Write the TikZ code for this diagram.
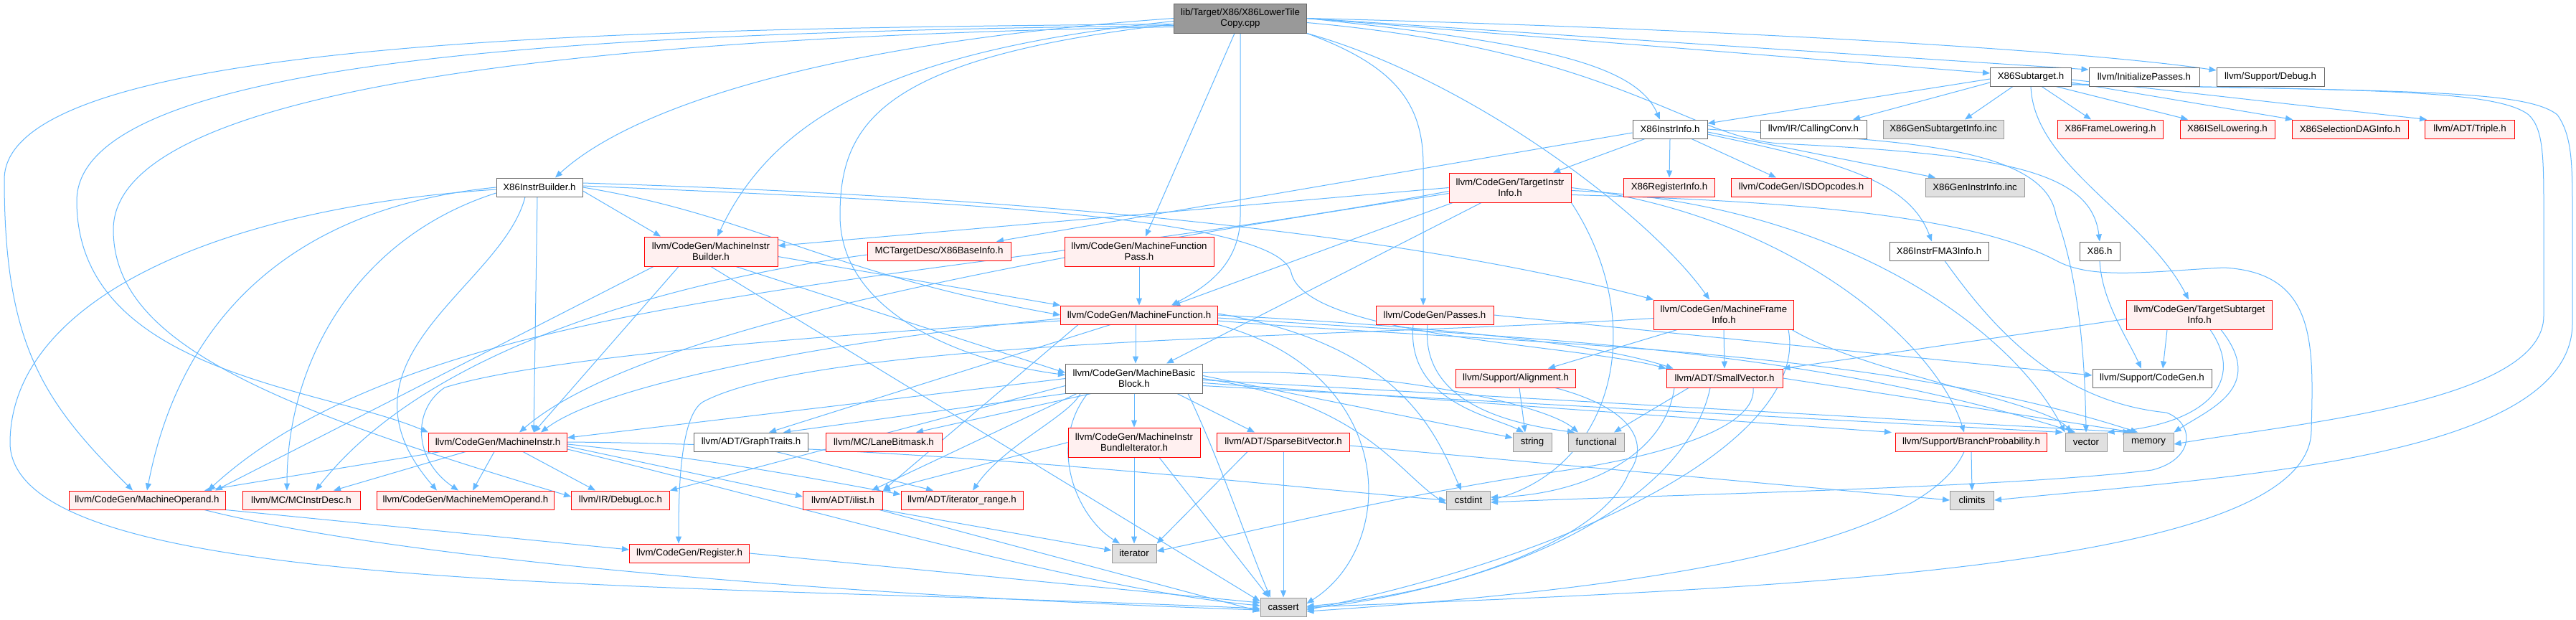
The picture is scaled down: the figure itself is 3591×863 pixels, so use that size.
\documentclass[tikz,border=0pt]{standalone}
\usepackage{fontspec}
\setmainfont{Liberation Sans}
\usetikzlibrary{arrows.meta,backgrounds}
\definecolor{edgec}{HTML}{63B8FF}
\definecolor{pinkf}{HTML}{FFF0F0}
\definecolor{redb}{HTML}{FF0000}
\definecolor{grayf}{HTML}{E0E0E0}
\definecolor{grayb}{HTML}{999999}
\definecolor{darkb}{HTML}{666666}
\definecolor{rootf}{HTML}{999999}
\begin{document}
\begin{tikzpicture}[x=1pt,y=-1pt,
  nd/.style={draw, line width=1pt, minimum height=26pt, inner xsep=2pt, inner ysep=1pt, align=center, font=\fontsize{13.3}{15}\selectfont, text=black},
  rn/.style={nd, draw=redb, fill=pinkf},
  wn/.style={nd, draw=darkb, fill=white},
  gn/.style={nd, draw=grayb, fill=grayf},
  tn/.style={nd, draw=darkb, fill=rootf},
  two/.style={minimum height=41pt},
  ed/.style={draw=edgec, line width=1pt, -{Triangle[length=10pt,width=8pt]}}
]
\useasboundingbox (0,0) rectangle (3591,863);
% ---------------- nodes
\node[tn,two,minimum width=185pt] (root) at (1729,25.5) {lib/Target/X86/X86LowerTile\\Copy.cpp};
\node[wn,minimum width=113pt] (x86st) at (2831,107) {X86Subtarget.h};
\node[wn,minimum width=154pt] (initp) at (2989,107) {llvm/InitializePasses.h};
\node[wn,minimum width=150pt] (debug) at (3165,107) {llvm/Support/Debug.h};
\node[wn,minimum width=104pt] (x86ii) at (2328,180) {X86InstrInfo.h};
\node[wn,minimum width=148pt] (callconv) at (2528,180) {llvm/IR/CallingConv.h};
\node[gn,minimum width=168pt] (gensti) at (2709,180) {X86GenSubtargetInfo.inc};
\node[rn,minimum width=147pt] (framel) at (2942,180) {X86FrameLowering.h};
\node[rn,minimum width=132pt] (isell) at (3105,180) {X86ISelLowering.h};
\node[rn,minimum width=162pt] (seldag) at (3276,180) {X86SelectionDAGInfo.h};
\node[rn,minimum width=125pt] (triple) at (3443,180) {llvm/ADT/Triple.h};
\node[wn,minimum width=120pt] (x86ib) at (752,261) {X86InstrBuilder.h};
\node[rn,two,minimum width=170pt] (tii) at (2105,261.5) {llvm/CodeGen/TargetInstr\\Info.h};
\node[rn,minimum width=127pt] (reginfo) at (2327,261) {X86RegisterInfo.h};
\node[rn,minimum width=195pt] (isdop) at (2511,261) {llvm/CodeGen/ISDOpcodes.h};
\node[gn,minimum width=138pt] (geninst) at (2753,261) {X86GenInstrInfo.inc};
\node[rn,two,minimum width=186pt] (mib) at (991,350.5) {llvm/CodeGen/MachineInstr\\Builder.h};
\node[rn,minimum width=200pt] (baseinfo) at (1309,350) {MCTargetDesc/X86BaseInfo.h};
\node[rn,two,minimum width=208pt] (mfp) at (1588,350.5) {llvm/CodeGen/MachineFunction\\Pass.h};
\node[wn,minimum width=138pt] (fma3) at (2703,350) {X86InstrFMA3Info.h};
\node[wn,minimum width=56pt] (x86h) at (2927,350) {X86.h};
\node[rn,minimum width=219pt] (mf) at (1588,439) {llvm/CodeGen/MachineFunction.h};
\node[rn,minimum width=164pt] (passes) at (2000,439) {llvm/CodeGen/Passes.h};
\node[rn,two,minimum width=195pt] (mfi) at (2403,438.5) {llvm/CodeGen/MachineFrame\\Info.h};
\node[rn,two,minimum width=203pt] (tsi) at (3066,438.5) {llvm/CodeGen/TargetSubtarget\\Info.h};
\node[wn,two,minimum width=191pt] (mbb) at (1581,527.5) {llvm/CodeGen/MachineBasic\\Block.h};
\node[rn,minimum width=167pt] (align) at (2113,527) {llvm/Support/Alignment.h};
\node[rn,minimum width=162pt] (smallvec) at (2404,527) {llvm/ADT/SmallVector.h};
\node[wn,minimum width=166pt] (cgen) at (3000,527) {llvm/Support/CodeGen.h};
\node[rn,minimum width=193pt] (mi) at (694,616) {llvm/CodeGen/MachineInstr.h};
\node[wn,minimum width=159pt] (graph) at (1047,616) {llvm/ADT/GraphTraits.h};
\node[rn,minimum width=162pt] (lane) at (1232,616) {llvm/MC/LaneBitmask.h};
\node[rn,two,minimum width=184pt] (bundle) at (1581,616.5) {llvm/CodeGen/MachineInstr\\BundleIterator.h};
\node[rn,minimum width=185pt] (sparse) at (1789,616) {llvm/ADT/SparseBitVector.h};
\node[gn,minimum width=54pt] (string) at (2136,616) {string};
\node[gn,minimum width=78pt] (functional) at (2225,616) {functional};
\node[rn,minimum width=211pt] (branch) at (2748,616) {llvm/Support/BranchProbability.h};
\node[gn,minimum width=58pt] (vector) at (2908,616) {vector};
\node[gn,minimum width=70pt] (memory) at (2995,616) {memory};
\node[rn,minimum width=218pt] (mo) at (205,697) {llvm/CodeGen/MachineOperand.h};
\node[rn,minimum width=164pt] (mcid) at (420,697) {llvm/MC/MCInstrDesc.h};
\node[rn,minimum width=247pt] (mmo) at (649,697) {llvm/CodeGen/MachineMemOperand.h};
\node[rn,minimum width=137pt] (dloc) at (865,697) {llvm/IR/DebugLoc.h};
\node[rn,minimum width=111pt] (ilist) at (1175,697) {llvm/ADT/ilist.h};
\node[rn,minimum width=170pt] (itrange) at (1341,697) {llvm/ADT/iterator\_range.h};
\node[gn,minimum width=61pt] (cstdint) at (2047,697) {cstdint};
\node[gn,minimum width=61pt] (climits) at (2749,697) {climits};
\node[rn,minimum width=167pt] (reg) at (961,771) {llvm/CodeGen/Register.h};
\node[gn,minimum width=62pt] (iterator) at (1581,771) {iterator};
\node[gn,minimum width=64pt] (cassert) at (1789,846) {cassert};
% ---------------- edges
\begin{pgfonlayer}{background}
\fill[white] (0,0) rectangle (3591,863);
% root
\draw[ed] (root.west) .. controls (1150,60) and (880,150) .. ([xshift=22pt]x86ib.north);
\draw[ed] ([yshift=-4pt]root.west) .. controls (1250,70) and (1080,160) .. ([xshift=9pt]mib.north);
\draw[ed] ([yshift=-8pt]root.west) .. controls (1230,80) and (1171,170) .. (1171,300) .. controls (1171,440) and (1350,505) .. ([yshift=5pt]mbb.west);
\draw[ed] ([xshift=-8pt]root.south) -- ([xshift=9pt]mfp.north);
\draw[ed] (root.south) -- (1729,300) .. controls (1729,370) and (1680,400) .. ([xshift=45pt]mf.north);
\draw[ed] (root.south east) .. controls (1940,90) and (1984,140) .. (1984,230) -- ([xshift=-16pt]passes.north);
\draw[ed] (root.south east) .. controls (2050,110) and (2300,300) .. ([xshift=-20pt]mfi.north);
\draw[ed] (root.east) .. controls (2150,60) and (2280,90) .. ([xshift=-14pt]x86ii.north);
\draw[ed] (root.east) -- ([yshift=5pt]x86st.west);
\draw[ed] (root.east) -- ([yshift=10pt]initp.west);
\draw[ed] (root.east) .. controls (2400,40) and (2900,70) .. ([yshift=9pt]debug.west);
\draw[ed] ([yshift=-6pt]root.east) .. controls (2250,70) and (2350,190) .. (2480,200) .. controls (2800,215) and (2915,240) .. (x86h.north);
\draw[ed] ([yshift=-8pt]root.west) .. controls (900,40) and (6,50) .. (6,250) .. controls (6,480) and (60,560) .. ([xshift=-20pt]mo.north);
\draw[ed] ([yshift=-10pt]root.west) .. controls (900,45) and (107,70) .. (107,280) .. controls (107,520) and (450,540) .. (mi.north west);
\draw[ed] ([yshift=-12pt]root.west) .. controls (900,50) and (158,110) .. (158,320) .. controls (158,470) and (350,560) .. ([yshift=5pt]dloc.west);
% X86InstrBuilder
\draw[ed] ([yshift=-5pt]x86ib.east) -- ([xshift=-70pt]mib.north);
\draw[ed] (x86ib.east) .. controls (1050,300) and (1150,380) .. (mf.west);
\draw[ed] ([yshift=6pt]x86ib.east) .. controls (1300,270) and (1900,310) .. (mfi.north west);
\draw[ed] ([yshift=2pt]x86ib.east) .. controls (1300,280) and (1780,300) .. (1800,380) .. controls (1820,470) and (2200,480) .. (smallvec.north west);
\draw[ed] ([xshift=-3pt]x86ib.south) -- ([xshift=50pt]mi.north);
\draw[ed] (x86ib.west) .. controls (400,290) and (250,450) .. (mo.north);
\draw[ed] ([yshift=-8pt]x86ib.west) .. controls (500,330) and (400,500) .. ([xshift=-20pt]mcid.north);
\draw[ed] ([xshift=-20pt]x86ib.south) .. controls (700,400) and (450,500) .. ([xshift=-40pt]mmo.north);
\draw[ed] ([yshift=-3pt]x86ib.west) .. controls (300,290) and (12,420) .. (14,620) .. controls (25,830) and (900,810) .. ([yshift=-2pt]cassert.west);
% X86Subtarget
\draw[ed] ([yshift=-3pt]x86st.west) -- ([yshift=8pt]x86ii.east);
\draw[ed] ([yshift=-8pt]x86st.west) -- ([xshift=55pt]callconv.north);
\draw[ed] ([xshift=-25pt]x86st.south) -- ([xshift=30pt]gensti.north);
\draw[ed] ([xshift=15pt]x86st.south) -- ([xshift=-27pt]framel.north);
\draw[ed] ([xshift=35pt]x86st.south) -- ([xshift=-55pt]isell.north);
\draw[ed] ([yshift=-8pt]x86st.east) -- ([xshift=-80pt]seldag.north);
\draw[ed] ([yshift=-4pt]x86st.east) -- ([xshift=-60pt]triple.north);
\draw[ed] (x86st.south) .. controls (2835,230) and (2990,300) .. ([xshift=-15pt]tsi.north);
\draw[ed] ([yshift=-11pt]x86st.east) .. controls (3300,125) and (3480,125) .. (3525,160) .. controls (3546,180) and (3546,220) .. (3546,300) -- (3546,440) .. controls (3546,560) and (3200,590) .. ([yshift=-3pt]memory.east);
\draw[ed] ([yshift=-10pt]x86st.east) .. controls (3350,128) and (3520,124) .. (3565,160) .. controls (3586,190) and (3586,230) .. (3586,300) -- (3586,450) .. controls (3586,640) and (3100,665) .. (climits.east);
% X86InstrInfo
\draw[ed] ([yshift=-5pt]x86ii.west) -- ([xshift=80pt]baseinfo.north);
\draw[ed] ([xshift=-35pt]x86ii.south) -- ([xshift=60pt]tii.north);
\draw[ed] (x86ii.south) -- (reginfo.north);
\draw[ed] ([xshift=30pt]x86ii.south) -- ([xshift=-35pt]isdop.north);
\draw[ed] ([yshift=-4pt]x86ii.east) -- ([xshift=-55pt]geninst.north);
\draw[ed] ([yshift=-7pt]x86ii.east) .. controls (2560,225) and (2660,250) .. ([xshift=-10pt]fma3.north);
\draw[ed] (x86ii.east) .. controls (2600,195) and (2850,195) .. (2866,300) .. controls (2895,380) and (2906,480) .. (vector.north);
% X86.h, FMA3
\draw[ed] (x86h.south) .. controls (2930,420) and (2965,470) .. ([xshift=-15pt]cgen.north);
\draw[ed] ([xshift=8pt]fma3.south) .. controls (2780,460) and (2870,560) .. (3020,575) .. controls (3060,590) and (3060,640) .. (3000,655) .. controls (2800,680) and (2300,690) .. ([yshift=-3pt]cstdint.east);
% TargetInstrInfo
\draw[ed] (tii.west) -- ([yshift=8pt]mib.east);
\draw[ed] ([yshift=-5pt]tii.west) .. controls (1300,400) and (600,400) .. ([xshift=85pt]mo.north);
\draw[ed] ([yshift=-8pt]tii.west) .. controls (1500,350) and (900,450) .. ([xshift=30pt]mi.north);
\draw[ed] ([xshift=-80pt]tii.south) -- ([xshift=47pt]mf.north);
\draw[ed] ([xshift=-40pt]tii.south) -- ([xshift=45pt]mbb.north);
\draw[ed] (tii.east) .. controls (2500,300) and (2700,480) .. ([xshift=-10pt]branch.north);
\draw[ed] ([yshift=-4pt]tii.east) .. controls (2550,280) and (2800,450) .. (vector.north west);
\draw[ed] (tii.south east) .. controls (2300,450) and (2250,650) .. (cstdint.east);
\draw[ed] ([yshift=-10pt]tii.east) .. controls (2500,280) and (2750,300) .. (2870,365) .. controls (2920,390) and (3000,378) .. (3100,373) .. controls (3230,380) and (3225,480) .. (3222,600) .. controls (3220,790) and (2500,820) .. (cassert.east);
% MachineInstrBuilder
\draw[ed] ([yshift=-7pt]mib.east) -- (mf.north west);
\draw[ed] ([xshift=35pt]mib.south) -- ([yshift=8pt]mbb.west);
\draw[ed] ([xshift=-45pt]mib.south) -- ([xshift=50pt]mi.north);
\draw[ed] ([xshift=-80pt]mib.south) -- ([xshift=95pt]mo.north);
\draw[ed] (mib.south) -- ([yshift=8pt]cassert.west);
% X86BaseInfo, MachineFunctionPass
\draw[ed] ([yshift=-5pt]baseinfo.west) .. controls (950,390) and (600,480) .. ([xshift=20pt]mcid.north);
\draw[ed] (mfp.south) -- (mf.north);
% MachineFunction
\draw[ed] ([xshift=-5pt]mf.south) -- ([xshift=2pt]mbb.north);
\draw[ed] ([yshift=-5pt]mf.west) .. controls (1200,470) and (850,530) .. ([xshift=60pt]mi.north);
\draw[ed] ([yshift=-8pt]mf.west) .. controls (1100,470) and (750,500) .. (620,540) .. controls (575,570) and (575,640) .. ([xshift=-10pt]mmo.north);
\draw[ed] ([xshift=-40pt]mf.south) -- ([xshift=25pt]graph.north);
\draw[ed] ([xshift=-85pt]mf.south) -- (ilist.north east);
\draw[ed] (mf.east) .. controls (1900,450) and (2200,470) .. ([xshift=10pt]smallvec.north west);
\draw[ed] ([yshift=-4pt]mf.east) .. controls (2100,470) and (2500,480) .. ([xshift=-15pt]vector.north);
\draw[ed] ([yshift=-8pt]mf.east) .. controls (2100,480) and (2600,480) .. ([xshift=-15pt]memory.north);
\draw[ed] (mf.south east) .. controls (1950,520) and (1950,760) .. ([yshift=5pt]cassert.east);
\draw[ed] ([yshift=2pt]mf.east) .. controls (1950,480) and (2000,600) .. ([xshift=-10pt]cstdint.north);
% MachineBasicBlock
\draw[ed] (mbb.west) -- ([yshift=6pt]mi.east);
\draw[ed] (mbb.south west) -- ([xshift=45pt]graph.north);
\draw[ed] ([xshift=-60pt]mbb.south) -- ([xshift=45pt]lane.north);
\draw[ed] (mbb.south) -- (bundle.north);
\draw[ed] ([xshift=60pt]mbb.south) -- ([xshift=-40pt]sparse.north);
\draw[ed] ([xshift=-80pt]mbb.south) -- ([xshift=40pt]ilist.north);
\draw[ed] ([xshift=-75pt]mbb.south) .. controls (1490,580) and (1400,620) .. ([xshift=15pt]itrange.north);
\draw[ed] ([xshift=-65pt]mbb.south) .. controls (1460,620) and (1500,720) .. ([xshift=-20pt]iterator.north);
\draw[ed] ([yshift=4pt]mbb.east) -- ([yshift=6pt]string.west);
\draw[ed] ([yshift=8pt]mbb.east) .. controls (1900,510) and (2150,560) .. ([xshift=-25pt]functional.north);
\draw[ed] ([xshift=75pt]mbb.south) .. controls (1700,640) and (1740,760) .. ([xshift=-18pt]cassert.north);
\draw[ed] (mbb.east) .. controls (1900,560) and (1950,660) .. ([yshift=-5pt]cstdint.west);
\draw[ed] ([yshift=-6pt]mbb.east) -- ([xshift=-5pt]branch.north west);
\draw[ed] ([yshift=-10pt]mbb.east) -- ([xshift=-3pt]vector.north west);
\draw[ed] ([yshift=-2pt]mbb.east) -- ([xshift=10pt]memory.north west);
\draw[ed] ([yshift=-10pt]mbb.west) -- (dloc.north east);
% MachineInstr
\draw[ed] ([xshift=-80pt]mi.south) -- ([xshift=80pt]mo.north);
\draw[ed] ([xshift=-45pt]mi.south) -- ([xshift=45pt]mcid.north);
\draw[ed] ([xshift=-5pt]mi.south) -- ([xshift=10pt]mmo.north);
\draw[ed] ([xshift=35pt]mi.south) -- ([xshift=-35pt]dloc.north);
\draw[ed] ([yshift=-6pt]mi.east) -- ([yshift=5pt]ilist.west);
\draw[ed] ([yshift=-3pt]mi.east) .. controls (1000,640) and (1150,670) .. ([yshift=8pt]itrange.west);
\draw[ed] ([yshift=-10pt]mi.east) .. controls (1100,700) and (1500,820) .. ([yshift=2pt]cassert.west);
\draw[ed] (mi.east) .. controls (1300,620) and (1800,680) .. (cstdint.west);
% Passes
\draw[ed] (passes.east) -- ([yshift=4pt]cgen.west);
\draw[ed] ([xshift=-10pt]passes.south) .. controls (1980,560) and (2100,590) .. ([xshift=-30pt]functional.north);
\draw[ed] ([xshift=-30pt]passes.south) .. controls (1960,560) and (2080,580) .. ([xshift=-12pt]string.north);
% MachineFrameInfo
\draw[ed] ([xshift=-65pt]mfi.south) -- ([xshift=45pt]align.north);
\draw[ed] (mfi.south) -- (smallvec.north);
\draw[ed] ([yshift=-5pt]mfi.west) .. controls (1900,470) and (1150,470) .. (980,560) .. controls (946,580) and (946,700) .. ([xshift=-15pt]reg.north);
\draw[ed] ([xshift=90pt]mfi.south) .. controls (2520,600) and (2250,760) .. ([yshift=-4pt]cassert.east);
\draw[ed] ([xshift=95pt]mfi.south) .. controls (2600,520) and (2850,560) .. ([xshift=-20pt]vector.north);
% TargetSubtargetInfo
\draw[ed] ([xshift=-45pt]tsi.south) -- ([xshift=15pt]cgen.north);
\draw[ed] ([yshift=-6pt]tsi.west) -- (smallvec.north east);
\draw[ed] ([xshift=15pt]tsi.south) .. controls (3130,530) and (3080,590) .. (vector.north east);
\draw[ed] ([xshift=30pt]tsi.south) .. controls (3160,540) and (3080,570) .. (memory.north east);
% Alignment, SmallVector
\draw[ed] ([xshift=5pt]align.south) -- ([xshift=-10pt]string.north);
\draw[ed] ([xshift=55pt]align.south) .. controls (2280,570) and (2300,620) .. (2270,660) .. controls (2230,760) and (2000,830) .. ([yshift=-2pt]cassert.east);
\draw[ed] ([xshift=-50pt]smallvec.south) -- ([xshift=25pt]functional.north);
\draw[ed] ([xshift=-70pt]smallvec.south) .. controls (2320,640) and (2200,690) .. ([yshift=4pt]cstdint.east);
\draw[ed] ([xshift=-20pt]smallvec.south) .. controls (2350,700) and (2100,820) .. ([yshift=1pt]cassert.east);
\draw[ed] ([xshift=40pt]smallvec.south) .. controls (2450,600) and (2300,640) .. (2150,660) .. controls (1950,690) and (1750,740) .. ([yshift=3pt]iterator.east);
\draw[ed] (smallvec.east) -- ([xshift=-20pt]memory.north);
% BranchProbability
\draw[ed] (branch.south) -- (climits.north);
\draw[ed] ([xshift=-10pt]branch.south) .. controls (2680,760) and (2300,820) .. ([yshift=-6pt]cassert.east);
% lower level
\draw[ed] (mo.south east) -- ([yshift=5pt]reg.west);
\draw[ed] ([xshift=80pt]mo.south) .. controls (600,790) and (1300,835) .. ([yshift=-4pt]cassert.west);
\draw[ed] (reg.east) -- ([yshift=6pt]cassert.west);
\draw[ed] ([xshift=35pt]graph.south) -- ([xshift=-40pt]itrange.north);
\draw[ed] (bundle.west) -- (ilist.north east);
\draw[ed] (bundle.south) -- (iterator.north);
\draw[ed] ([xshift=35pt]bundle.south) -- ([xshift=-20pt]cassert.north);
\draw[ed] ([xshift=-50pt]sparse.south) -- (iterator.north east);
\draw[ed] (sparse.south) -- (cassert.north);
\draw[ed] ([yshift=-5pt]sparse.east) -- (climits.west);
\draw[ed] (ilist.south east) -- ([yshift=4pt]iterator.west);
\draw[ed] ([xshift=-5pt]ilist.south east) -- ([yshift=-6pt]cassert.west);
\end{pgfonlayer}
\end{tikzpicture}
\end{document}
